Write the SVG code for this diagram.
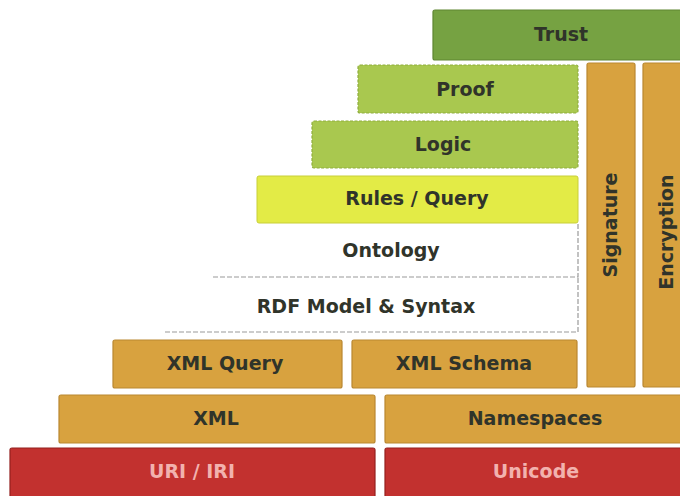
<svg xmlns="http://www.w3.org/2000/svg" width="680" height="496" viewBox="0 0 680 496">
  <style>
    .lbl { font-family: "DejaVu Sans", "Liberation Sans", sans-serif; font-weight: bold; font-size: 19px; fill: #30342a; text-anchor: middle; dominant-baseline: central; }
    .lt { fill: #f2b2ae; }
    .trust { fill: #76a242; stroke: #5e8531; stroke-width: 1.2; }
    .lg { fill: #a9c84f; stroke: #8fae3c; stroke-width: 1.2; stroke-dasharray: 3 1.5; }
    .yl { fill: #e3eb46; stroke: #c8cf38; stroke-width: 1; }
    .or { fill: #d8a23f; stroke: #b98730; stroke-width: 1.2; }
    .rd { fill: #c2312f; stroke: #94201f; stroke-width: 1.2; }
    .wl { fill: none; stroke: #9a9a9a; stroke-width: 1.2; stroke-dasharray: 5 2; }
  </style>
  <rect width="680" height="496" fill="#ffffff"/>
  <g id="trust">
    <rect class="trust" x="433" y="10" width="260" height="50" rx="2"/>
    <text class="lbl" x="561" y="34">Trust</text>
  </g>
  <g id="proof">
    <rect class="lg" x="358" y="65" width="220" height="48" rx="2"/>
    <text class="lbl" x="465" y="89">Proof</text>
  </g>
  <g id="logic">
    <rect class="lg" x="312" y="121" width="266" height="47" rx="2"/>
    <text class="lbl" x="443" y="144">Logic</text>
  </g>
  <g id="rules-query">
    <rect class="yl" x="257" y="176" width="321" height="47" rx="2"/>
    <text class="lbl" x="417" y="198">Rules / Query</text>
  </g>
  <g id="ontology">
    <path class="wl" d="M213 277 H578 V223"/>
    <text class="lbl" x="391" y="250">Ontology</text>
  </g>
  <g id="rdf">
    <path class="wl" d="M165 332 H578 V277"/>
    <text class="lbl" x="366" y="306">RDF Model &amp; Syntax</text>
  </g>
  <g id="xml-query">
    <rect class="or" x="113" y="340" width="229" height="48" rx="2"/>
    <text class="lbl" x="225" y="363">XML Query</text>
  </g>
  <g id="xml-schema">
    <rect class="or" x="352" y="340" width="225" height="48" rx="2"/>
    <text class="lbl" x="464" y="363">XML Schema</text>
  </g>
  <g id="xml">
    <rect class="or" x="59" y="395" width="316" height="48" rx="2"/>
    <text class="lbl" x="216" y="418">XML</text>
  </g>
  <g id="namespaces">
    <rect class="or" x="385" y="395" width="300" height="48" rx="2"/>
    <text class="lbl" x="535" y="418">Namespaces</text>
  </g>
  <g id="uri-iri">
    <rect class="rd" x="10" y="448" width="365" height="52" rx="2"/>
    <text class="lbl lt" x="192" y="471">URI / IRI</text>
  </g>
  <g id="unicode">
    <rect class="rd" x="385" y="448" width="300" height="52" rx="2"/>
    <text class="lbl lt" x="536" y="471">Unicode</text>
  </g>
  <g id="signature">
    <rect class="or" x="587" y="63" width="48" height="324" rx="2"/>
    <text class="lbl" transform="translate(610 225) rotate(-90)" x="0" y="0">Signature</text>
  </g>
  <g id="encryption">
    <rect class="or" x="643" y="63" width="50" height="324" rx="2"/>
    <text class="lbl" transform="translate(666 232) rotate(-90)" x="0" y="0">Encryption</text>
  </g>
  <g id="connectors"></g>
</svg>
